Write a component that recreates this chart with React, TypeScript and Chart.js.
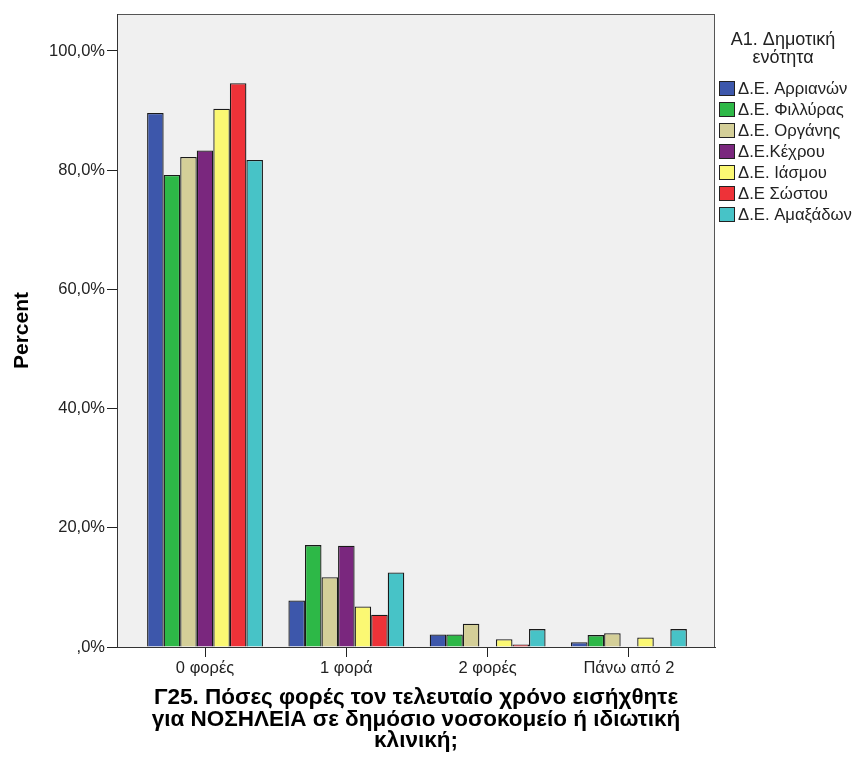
import React, { useEffect, useRef } from "react";
import { Chart, registerables } from "chart.js";

Chart.register(...registerables);

const categories = ["0 φορές", "1 φορά", "2 φορές", "Πάνω από 2"];
const seriesNames = [
  "Δ.Ε. Αρριανών",
  "Δ.Ε. Φιλλύρας",
  "Δ.Ε. Οργάνης",
  "Δ.Ε.Κέχρου",
  "Δ.Ε. Ιάσμου",
  "Δ.Ε Σώστου",
  "Δ.Ε. Αμαξάδων",
];
const arrianon = [89.6, 7.8, 2.1, 0.8];
const fillyras = [79.2, 17.1, 2.1, 2.0];
const organis = [82.2, 11.7, 3.9, 2.3];
const kechrou = [83.3, 17.0, 0, 0];
const iasmou = [90.3, 6.8, 1.3, 1.6];
const sostou = [94.6, 5.4, 0.4, 0];
const amaxadon = [81.7, 12.5, 3.0, 3.0];
const seriesValues = [arrianon, fillyras, organis, kechrou, iasmou, sostou, amaxadon];
const seriesColors = ["#3d57ab", "#2db847", "#d4cf98", "#7a277e", "#fbf873", "#ee3238", "#47c3c7"];
const yTicks = [0, 20, 40, 60, 80, 100];
const legendTitle = ["A1. Δημοτική", "ενότητα"];
const xTitle = [
  "Γ25. Πόσες φορές τον τελευταίο χρόνο εισήχθητε",
  "για ΝΟΣΗΛΕΙΑ σε δημόσιο νοσοκομείο ή ιδιωτική",
  "κλινική;",
];
const yTitle = "Percent";

const FONT = "'Liberation Sans', Arial, sans-serif";

const framePlugin = {
  id: "frame",
  beforeDraw(chart: any) {
    const { ctx, chartArea } = chart;
    ctx.save();
    ctx.fillStyle = "#f0f0f0";
    ctx.fillRect(chartArea.left, chartArea.top, chartArea.right - chartArea.left, chartArea.bottom - chartArea.top);
    ctx.strokeStyle = "#555";
    ctx.lineWidth = 1;
    ctx.strokeRect(chartArea.left + 0.5, chartArea.top + 0.5, chartArea.right - chartArea.left - 1, chartArea.bottom - chartArea.top);
    ctx.restore();
  },
};

const legendPlugin = {
  id: "customLegend",
  afterDraw(chart: any) {
    const { ctx } = chart;
    ctx.save();
    ctx.fillStyle = "#222";
    ctx.font = `18px ${FONT}`;
    ctx.textAlign = "center";
    ctx.textBaseline = "middle";
    legendTitle.forEach((t, i) => ctx.fillText(t, 783, 40 + i * 18));
    ctx.textAlign = "left";
    ctx.font = `16.7px ${FONT}`;
    chart.data.datasets.forEach((ds: any, i: number) => {
      const cy = 88 + i * 21;
      ctx.fillStyle = ds.backgroundColor;
      ctx.fillRect(719.5, cy - 7, 15, 14);
      ctx.strokeStyle = "#222";
      ctx.lineWidth = 1;
      ctx.strokeRect(719.5, cy - 7 + 0.5, 15, 14);
      ctx.fillStyle = "#222";
      ctx.fillText(ds.label, 738, cy + 1);
    });
    ctx.restore();
  },
};

export default function App() {
  const ref = useRef<HTMLCanvasElement>(null);
  useEffect(() => {
    if (!ref.current) return;
    const datasets = seriesNames.map((name, i) => ({
      label: name,
      data: seriesValues[i].map((v, j) => ({ x: j, y: v })),
      backgroundColor: seriesColors[i],
      borderColor: "#1a1a1a",
      borderWidth: 1.3,
      categoryPercentage: 0.82,
      barPercentage: 1,
    }));
    const chart = new Chart(ref.current, {
      type: "bar",
      data: { datasets },
      plugins: [framePlugin, legendPlugin],
      options: {
        responsive: false,
        animation: false,
        devicePixelRatio: 1,
        layout: { padding: { left: 0, right: 141, top: 14, bottom: 0 } },
        plugins: { legend: { display: false }, tooltip: { enabled: false } },
        scales: {
          x: {
            type: "linear",
            min: -0.623,
            max: 3.609,
            offset: false,
            afterBuildTicks: (axis: any) => {
              axis.ticks = categories.map((_, i) => ({ value: i }));
            },
            afterFit: (scale: any) => {
              scale.height = 115;
            },
            grid: {
              offset: false,
              drawOnChartArea: false,
              drawTicks: true,
              tickLength: 10,
              tickColor: "#222",
            },
            border: { color: "#333", width: 1 },
            ticks: {
              autoSkip: false,
              maxRotation: 0,
              padding: 2,
              color: "#222",
              font: { family: FONT, size: 16.5 },
              callback: (v: any) => categories[Math.round(v)] ?? "",
            },
            title: {
              display: true,
              text: xTitle,
              color: "#000",
              font: { family: FONT, size: 22.5, weight: "bold", lineHeight: "21.5px" },
              padding: { top: 0, bottom: 10 },
            },
          },
          y: {
            min: 0,
            max: 106.2,
            afterBuildTicks: (axis: any) => {
              axis.ticks = yTicks.map((v) => ({ value: v }));
            },
            afterFit: (scale: any) => {
              scale.width = 117;
            },
            grid: {
              drawOnChartArea: false,
              drawTicks: true,
              tickLength: 10,
              tickColor: "#222",
            },
            border: { color: "#333", width: 1 },
            ticks: {
              padding: 2,
              color: "#222",
              font: { family: FONT, size: 16.5 },
              callback: (v: any) => {
                const s = Number(v).toFixed(1).replace(".", ",");
                return (s === "0,0" ? ",0" : s) + "%";
              },
            },
            title: {
              display: true,
              text: yTitle,
              color: "#000",
              font: { family: FONT, size: 21, weight: "bold" },
              padding: { top: 10, bottom: 0 },
            },
          },
        },
      } as any,
    });
    return () => chart.destroy();
  }, []);
  return (
    <div style={{ position: "absolute", left: 0, top: 0, width: 856, height: 762, background: "#fff" }}>
      <canvas ref={ref} width={856} height={762} style={{ display: "block" }} />
    </div>
  );
}
